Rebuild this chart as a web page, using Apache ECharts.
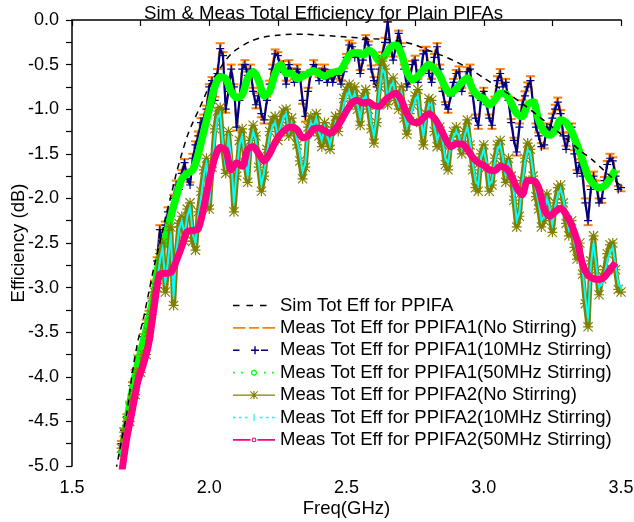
<!DOCTYPE html>
<html><head><meta charset="utf-8">
<script src="https://cdn.jsdelivr.net/npm/echarts@6/dist/echarts.min.js"></script>
<style>html,body{margin:0;padding:0;background:#fff}#c{width:634px;height:522px}</style>
</head><body><div id="c"></div>
<script>
// ---- data ----
const simFreq = [1.66,1.68,1.70,1.72,1.74,1.76,1.78,1.80,1.82,1.84,1.86,1.88,1.90,1.92,1.94,1.96,1.98,2.00,2.02,2.04,2.06,2.08,2.10,2.15,2.20,2.25,2.30,2.35,2.40,2.45,2.50,2.55,2.60,2.65,2.70,2.75,2.80,2.85,2.90,2.95,3.00,3.05,3.10,3.15,3.20,3.25,3.30,3.35,3.40,3.45,3.50];
const simEff = [-5.05,-4.72,-4.40,-3.95,-3.60,-3.35,-3.05,-2.75,-2.50,-2.22,-1.98,-1.72,-1.50,-1.30,-1.15,-1.02,-0.88,-0.74,-0.63,-0.54,-0.45,-0.38,-0.33,-0.24,-0.19,-0.17,-0.16,-0.16,-0.17,-0.18,-0.19,-0.20,-0.21,-0.22,-0.24,-0.28,-0.34,-0.40,-0.47,-0.55,-0.65,-0.75,-0.85,-0.96,-1.08,-1.20,-1.33,-1.46,-1.58,-1.72,-1.86];

// fine sampling: 1.68 GHz .. 3.50 GHz, 0.01 GHz steps
const fineStart = 1.68, fineStep = 0.01;
const ppifa1NoStir = [-4.72,-4.58,
 -4.42,-4.28,-4.06,-3.92,-3.76,-3.68,-3.52,-3.36,-3.26,-3.12,
 -2.92,-2.66,-2.30,-2.46,-2.26,-2.10,-2.16,-1.96,-1.80,-1.86,
 -1.68,-1.56,-1.74,-1.82,-1.50,-1.36,-1.25,-1.10,-1.06,-0.96,
 -0.72,-0.64,-0.86,-0.55,-0.26,-0.36,-1.04,-0.76,-0.50,-0.72,
 -1.24,-0.86,-0.50,-0.45,-0.58,-0.50,-0.76,-0.99,-0.82,-1.09,
 -1.16,-0.86,-0.68,-0.50,-0.33,-0.36,-0.50,-0.46,-0.68,-0.45,
 -0.54,-0.66,-0.50,-0.58,-0.94,-1.14,-0.76,-0.56,-0.45,-0.50,
 -0.64,-0.54,-0.50,-0.66,-0.56,-0.66,-0.56,-0.58,-0.68,-0.54,
 -0.38,-0.23,-0.26,-0.38,-0.34,-0.56,-0.41,-0.17,-0.24,-0.51,
 -0.64,-0.72,-0.50,-0.36,-0.20,-0.02,-0.26,-0.41,-0.26,-0.12,
 -0.26,-0.50,-0.72,-0.64,-0.46,-0.40,-0.66,-0.56,-0.34,-0.30,
 -0.56,-0.66,-0.38,-0.26,-0.50,-0.76,-0.92,-1.04,-0.82,-0.66,
 -0.56,-0.52,-0.76,-0.66,-0.53,-0.50,-0.82,-1.06,-1.22,-0.86,
 -0.76,-0.91,-1.06,-1.22,-0.86,-0.63,-0.55,-0.71,-0.66,-0.86,
 -1.11,-1.32,-1.52,-1.16,-0.90,-0.80,-0.70,-0.63,-0.90,-1.16,
 -1.26,-1.38,-1.44,-1.16,-1.21,-1.05,-0.95,-0.87,-1.01,-1.26,
 -1.41,-1.26,-1.16,-1.46,-1.68,-1.56,-1.70,-2.00,-2.30,-1.86,
 -1.70,-1.80,-2.00,-2.05,-1.76,-1.58,-1.50,-1.54,-1.70,-1.86,
 -1.92];
const ppifa1Stir10 = [-4.75,-4.60,
 -4.45,-4.30,-4.10,-3.95,-3.80,-3.70,-3.55,-3.40,-3.30,-3.15,
 -2.95,-2.70,-2.35,-2.50,-2.30,-2.15,-2.20,-2.00,-1.85,-1.90,
 -1.72,-1.60,-1.78,-1.85,-1.55,-1.40,-1.30,-1.15,-1.10,-1.00,
 -0.75,-0.68,-0.90,-0.60,-0.32,-0.40,-1.00,-0.80,-0.55,-0.75,
 -1.20,-0.90,-0.55,-0.50,-0.62,-0.55,-0.80,-0.95,-0.85,-1.05,
 -1.12,-0.90,-0.72,-0.55,-0.38,-0.40,-0.55,-0.50,-0.72,-0.50,
 -0.58,-0.70,-0.55,-0.62,-0.90,-1.08,-0.80,-0.60,-0.50,-0.55,
 -0.68,-0.58,-0.55,-0.70,-0.60,-0.70,-0.60,-0.62,-0.72,-0.58,
 -0.42,-0.28,-0.30,-0.42,-0.38,-0.60,-0.45,-0.22,-0.28,-0.55,
 -0.68,-0.75,-0.55,-0.40,-0.25,-0.02,-0.30,-0.45,-0.30,-0.15,
 -0.30,-0.55,-0.75,-0.68,-0.50,-0.45,-0.70,-0.60,-0.38,-0.35,
 -0.60,-0.70,-0.42,-0.30,-0.55,-0.80,-0.95,-1.00,-0.85,-0.70,
 -0.60,-0.58,-0.80,-0.70,-0.58,-0.55,-0.85,-1.10,-1.18,-0.90,
 -0.80,-0.95,-1.10,-1.18,-0.90,-0.68,-0.60,-0.75,-0.70,-0.90,
 -1.15,-1.35,-1.48,-1.20,-0.95,-0.85,-0.75,-0.68,-0.95,-1.20,
 -1.30,-1.42,-1.40,-1.20,-1.25,-1.10,-1.00,-0.92,-1.05,-1.30,
 -1.45,-1.30,-1.20,-1.50,-1.72,-1.60,-1.75,-2.05,-2.25,-1.90,
 -1.75,-1.85,-2.05,-2.00,-1.80,-1.62,-1.55,-1.58,-1.75,-1.90,
 -1.88];
const ppifa2NoStir = [-4.80,-4.62,
 -4.50,-4.50,-4.25,-4.20,-3.95,-3.95,-3.75,-3.75,-3.50,-3.30,
 -3.05,-3.00,-2.62,-2.50,-3.05,-2.75,-2.32,-3.20,-2.62,-2.28,
 -2.20,-2.48,-2.12,-2.05,-2.48,-2.58,-2.15,-1.92,-1.68,-1.55,
 -2.12,-1.65,-1.22,-1.02,-0.98,-1.45,-1.72,-1.25,-1.62,-2.15,
 -1.75,-1.35,-1.22,-1.60,-1.82,-1.35,-1.18,-1.30,-1.65,-1.92,
 -1.75,-1.45,-1.25,-1.12,-1.08,-1.35,-1.15,-1.02,-1.00,-1.30,
 -1.10,-1.25,-1.40,-1.58,-1.78,-1.65,-1.20,-1.08,-1.25,-1.05,
 -1.30,-1.42,-1.15,-1.35,-1.45,-1.20,-1.08,-1.25,-1.05,-0.88,
 -0.78,-0.72,-0.95,-0.75,-1.00,-1.18,-0.85,-0.78,-1.00,-1.22,
 -1.38,-1.15,-0.75,-0.46,-0.55,-0.95,-0.70,-0.65,-0.90,-1.00,
 -0.75,-1.10,-1.28,-1.05,-0.95,-0.85,-0.78,-1.15,-1.40,-1.05,
 -0.88,-0.90,-1.25,-1.42,-1.20,-1.40,-1.62,-1.68,-1.35,-1.25,
 -1.20,-1.35,-1.50,-1.25,-1.12,-1.40,-1.68,-1.88,-1.92,-1.50,
 -1.40,-1.65,-1.92,-1.85,-1.55,-1.40,-1.35,-1.60,-1.82,-1.55,
 -1.75,-2.02,-2.32,-2.20,-1.80,-1.55,-1.38,-1.45,-1.75,-1.98,
 -2.12,-2.32,-2.25,-1.95,-2.15,-2.38,-2.05,-1.88,-1.85,-2.05,
 -2.28,-2.42,-2.25,-2.55,-2.68,-2.50,-2.85,-3.18,-3.44,-2.70,
 -2.42,-2.80,-3.08,-2.90,-2.80,-2.62,-2.52,-2.50,-2.80,-3.02,
 -3.05];
const ppifa2Stir10 = [-4.85,-4.70,
 -4.55,-4.45,-4.30,-4.15,-4.00,-3.90,-3.80,-3.70,-3.55,-3.35,
 -3.10,-2.95,-2.70,-2.55,-2.95,-2.70,-2.40,-3.10,-2.60,-2.35,
 -2.25,-2.40,-2.20,-2.10,-2.40,-2.50,-2.20,-2.00,-1.75,-1.60,
 -2.05,-1.70,-1.30,-1.10,-1.05,-1.40,-1.65,-1.30,-1.55,-2.05,
 -1.70,-1.40,-1.30,-1.55,-1.75,-1.40,-1.25,-1.35,-1.60,-1.85,
 -1.70,-1.50,-1.30,-1.20,-1.15,-1.30,-1.20,-1.10,-1.05,-1.25,
 -1.15,-1.20,-1.35,-1.50,-1.70,-1.60,-1.25,-1.15,-1.20,-1.10,
 -1.25,-1.35,-1.20,-1.30,-1.40,-1.25,-1.15,-1.20,-1.10,-0.95,
 -0.85,-0.80,-0.90,-0.82,-0.95,-1.10,-0.90,-0.85,-0.95,-1.15,
 -1.30,-1.10,-0.80,-0.55,-0.60,-0.90,-0.75,-0.70,-0.85,-0.95,
 -0.80,-1.05,-1.20,-1.10,-1.00,-0.90,-0.85,-1.10,-1.30,-1.10,
 -0.95,-0.95,-1.20,-1.35,-1.25,-1.35,-1.55,-1.60,-1.40,-1.30,
 -1.25,-1.30,-1.45,-1.30,-1.20,-1.35,-1.60,-1.80,-1.85,-1.55,
 -1.45,-1.60,-1.85,-1.80,-1.60,-1.45,-1.40,-1.55,-1.75,-1.60,
 -1.70,-1.95,-2.25,-2.15,-1.85,-1.60,-1.45,-1.50,-1.70,-1.90,
 -2.05,-2.25,-2.20,-2.00,-2.10,-2.30,-2.10,-1.95,-1.90,-2.00,
 -2.20,-2.35,-2.30,-2.50,-2.60,-2.55,-2.80,-3.10,-3.35,-2.75,
 -2.50,-2.75,-3.00,-2.95,-2.85,-2.70,-2.60,-2.55,-2.75,-2.95,
 -3.00];

// coarse sampling: 1.68 GHz .. 3.48 GHz, 0.02 GHz steps
const coarseStart = 1.68, coarseStep = 0.02;
const ppifa1Stir50 = [-4.90,-4.50,-4.15,-3.85,-3.60,-3.35,-3.05,-2.65,-2.45,-2.20,
 -1.98,-1.78,-1.72,-1.68,-1.50,-1.25,-1.00,-0.75,-0.64,-0.66,
 -0.80,-0.87,-0.84,-0.65,-0.58,-0.68,-0.85,-0.80,-0.60,-0.50,
 -0.60,-0.60,-0.66,-0.63,-0.60,-0.57,-0.60,-0.63,-0.60,-0.58,
 -0.56,-0.45,-0.37,-0.37,-0.39,-0.34,-0.38,-0.46,-0.40,-0.31,
 -0.28,-0.38,-0.58,-0.67,-0.63,-0.56,-0.50,-0.55,-0.62,-0.76,
 -0.82,-0.77,-0.70,-0.65,-0.78,-0.85,-0.88,-0.95,-0.90,-0.82,
 -0.83,-0.93,-1.05,-1.08,-0.95,-0.92,-1.12,-1.25,-1.29,-1.24,
 -1.12,-1.15,-1.25,-1.40,-1.57,-1.75,-1.84,-1.88,-1.86,-1.78,
 -1.68];
const ppifa2Stir50 = [-5.10,-4.68,-4.37,-4.05,-3.86,-3.62,-3.20,-2.85,-2.84,-2.83,
 -2.70,-2.54,-2.37,-2.36,-2.34,-2.10,-1.80,-1.55,-1.43,-1.46,
 -1.68,-1.60,-1.64,-1.45,-1.42,-1.50,-1.58,-1.50,-1.37,-1.28,
 -1.22,-1.20,-1.23,-1.32,-1.30,-1.22,-1.21,-1.24,-1.27,-1.22,
 -1.13,-1.02,-0.93,-0.90,-0.93,-0.92,-0.96,-0.97,-0.90,-0.85,
 -0.82,-0.90,-1.05,-1.14,-1.15,-1.10,-1.05,-1.10,-1.20,-1.33,
 -1.42,-1.39,-1.39,-1.45,-1.54,-1.60,-1.63,-1.68,-1.69,-1.64,
 -1.66,-1.74,-1.88,-1.96,-1.80,-1.80,-1.88,-2.12,-2.20,-2.15,
 -2.11,-2.18,-2.30,-2.47,-2.74,-2.86,-2.90,-2.91,-2.88,-2.80,
 -2.72];

const xTickLabels = [1.5, 2.0, 2.5, 3.0, 3.5];
const yTickLabels = [0.0,-0.5,-1.0,-1.5,-2.0,-2.5,-3.0,-3.5,-4.0,-4.5,-5.0];
const seriesNames = ['Sim Tot Eff for PPIFA','Meas Tot Eff for PPIFA1(No Stirring)','Meas Tot Eff for PPIFA1(10MHz Stirring)','Meas Tot Eff for PPIFA1(50MHz Stirring)','Meas Tot Eff for PPIFA2(No Stirring)','Meas Tot Eff for PPIFA2(10MHz Stirring)','Meas Tot Eff for PPIFA2(50MHz Stirring)'];

// ---- helpers ----
function pairs(start, step, arr){ return arr.map((v,i)=>[+(start+i*step).toFixed(2), v]); }
const FONT = 'Liberation Sans, Arial, sans-serif';
const BOX = 'M0,0h0.01v0.01h-0.01z M41.99,13.99h0.01v0.01h-0.01z ';
function ring(cx,cy,R,r){
  return `M${cx-R},${cy} A${R},${R} 0 1 1 ${cx+R},${cy} A${R},${R} 0 1 1 ${cx-R},${cy} Z M${cx-r},${cy} A${r},${r} 0 1 0 ${cx+r},${cy} A${r},${r} 0 1 0 ${cx-r},${cy} Z `;
}
const icons = [
  'path://' + BOX + 'M0,6.2h6.5v1.6h-6.5z M13.5,6.2h6.5v1.6h-6.5z M27,6.2h6.5v1.6h-6.5z',
  'path://' + BOX + 'M0,6.2h12.5v1.6h-12.5z M16,6.2h10v1.6h-10z M29.5,6.2h12.5v1.6h-12.5z',
  'path://' + BOX + 'M0,6.3h6.5v1.4h-6.5z M18,6.3h8v1.4h-8z M21.3,3h1.4v8h-1.4z M28,6.3h7v1.4h-7z',
  'path://' + BOX + 'M0,6.1h1.8v1.8h-1.8z M8,6.1h1.8v1.8h-1.8z ' + ring(21,7,3,1.8) + 'M31,6.1h1.8v1.8h-1.8z M39,6.1h1.8v1.8h-1.8z',
  'path://' + BOX + 'M0,6.3h16v1.4h-16z M26,6.3h16v1.4h-16z M20.4,3h1.2v8h-1.2z M16,6.4h10v1.2h-10z M17,3.7L17.7,3L25,10.3L24.3,11Z M24.3,3L25,3.7L17.7,11L17,10.3Z',
  'path://' + BOX + 'M0,6.2h2.5v1.6h-2.5z M6,6.2h2.5v1.6h-2.5z M12,6.2h2.5v1.6h-2.5z M20.4,3.5h1.2v7h-1.2z M27,6.2h2.5v1.6h-2.5z M33,6.2h2.5v1.6h-2.5z M39,6.2h2.5v1.6h-2.5z',
  'path://' + BOX + 'M0,6.2h17.5v1.6h-17.5z M24.5,6.2h17.5v1.6h-17.5z ' + ring(21,7,2.4,1.3)
];
const plusMark = 'path://M0,3.4h8v1.2h-8z M3.4,0h1.2v8h-1.2z';
const dashMark = 'path://M0,0h10v1.8h-10z';
const starMark = 'path://M4.4,0h1.2v10h-1.2z M0,4.4h10v1.2h-10z M0,0.8L0.8,0L10,9.2L9.2,10Z M9.2,0L10,0.8L0.8,10L0,9.2Z';
const barMark = 'path://M0,0h1.2v8h-1.2z';

const simData = simFreq.map((f,i)=>[f, simEff[i]]);

const chart = echarts.init(document.getElementById('c'), null, {renderer:'canvas'});
chart.setOption({
  animation: false,
  backgroundColor: '#fff',
  title: { text: 'Sim & Meas Total Efficiency for Plain PIFAs', left: 139, top: -1,
    textStyle: { fontFamily: FONT, fontSize: 18.7, fontWeight: 'normal', color: '#000' } },
  grid: { left: 72, right: 13, top: 20, bottom: 56, containLabel: false, outerBoundsMode: 'none' },
  legend: {
    orient: 'vertical', left: 228, top: 291, itemWidth: 42, itemHeight: 14, itemGap: 3.4,
    selectedMode: false, symbolKeepAspect: true,
    textStyle: { fontFamily: FONT, fontSize: 18.5, color: '#000' },
    data: seriesNames.map((n,i)=>({ name: n, icon: icons[i] }))
  },
  xAxis: {
    type: 'value', min: 1.5, max: 3.5, interval: 0.25,
    name: 'Freq(GHz)', nameLocation: 'middle', nameGap: 33, nameMoveOverlap: false,
    nameTextStyle: { fontFamily: FONT, fontSize: 18.5, color: '#000' },
    axisLine: { lineStyle: { color: '#000', width: 1.5 } },
    axisTick: { show: true, inside: false, length: 6, lineStyle: { color: '#000', width: 1.2 } },
    axisLabel: { fontFamily: FONT, fontSize: 18, color: '#000', margin: 13,
      formatter: v => xTickLabels.some(t => Math.abs(t - v) < 1e-6) ? v.toFixed(1) : '' },
    splitLine: { show: false }
  },
  yAxis: {
    type: 'value', min: -5, max: 0, interval: 0.25,
    name: 'Efficiency (dB)', nameLocation: 'middle', nameGap: 44, nameMoveOverlap: false,
    nameTextStyle: { fontFamily: FONT, fontSize: 18.5, color: '#000' },
    axisLine: { lineStyle: { color: '#000', width: 1.5 } },
    axisTick: { show: true, inside: false, length: 6, lineStyle: { color: '#000', width: 1.2 } },
    axisLabel: { fontFamily: FONT, fontSize: 18, color: '#000', margin: 13,
      formatter: v => yTickLabels.some(t => Math.abs(t - v) < 1e-6) ? (Math.abs(v) < 1e-9 ? '0.0' : v.toFixed(1)) : '' },
    splitLine: { show: false }
  },
  series: [
    { name: seriesNames[1], type: 'line', data: pairs(fineStart, fineStep, ppifa1NoStir), z: 2,
      symbol: dashMark, symbolSize: [9, 2], showSymbol: true,
      itemStyle: { color: '#FF8000' }, lineStyle: { color: '#FF8000', width: 2, type: [8,4] } },
    { name: seriesNames[2], type: 'line', data: pairs(fineStart, fineStep, ppifa1Stir10), z: 3,
      symbol: plusMark, symbolSize: [8, 8], showSymbol: true,
      itemStyle: { color: '#000080' }, lineStyle: { color: '#000080', width: 2.2 } },
    { name: seriesNames[3], type: 'line', data: pairs(coarseStart, coarseStep, ppifa1Stir50), z: 4,
      symbol: 'emptyCircle', showSymbol: false, smooth: 0.3,
      itemStyle: { color: '#00FF00' }, lineStyle: { color: '#00FF00', width: 7.5 } },
    { name: seriesNames[4], type: 'line', data: pairs(fineStart, fineStep, ppifa2NoStir), z: 5,
      symbol: starMark, symbolSize: [10, 10], showSymbol: true,
      itemStyle: { color: '#808000' }, lineStyle: { color: '#808000', width: 5 } },
    { name: seriesNames[5], type: 'line', data: pairs(fineStart, fineStep, ppifa2Stir10), z: 6,
      symbol: barMark, symbolSize: [1.3, 6], showSymbol: true,
      itemStyle: { color: '#00FFFF' }, lineStyle: { color: '#00FFFF', width: 2 } },
    { name: seriesNames[6], type: 'line', data: pairs(coarseStart, coarseStep, ppifa2Stir50), z: 7,
      symbol: 'emptyCircle', showSymbol: false, smooth: 0.3,
      itemStyle: { color: '#FF0080' }, lineStyle: { color: '#FF0080', width: 7 } },
    { name: seriesNames[0], type: 'line', data: simData, z: 8,
      symbol: 'none', showSymbol: false, smooth: 0.3,
      itemStyle: { color: '#000' }, lineStyle: { color: '#000', width: 1.5, type: [6,5] } }
  ]
});
</script>
</body></html>
